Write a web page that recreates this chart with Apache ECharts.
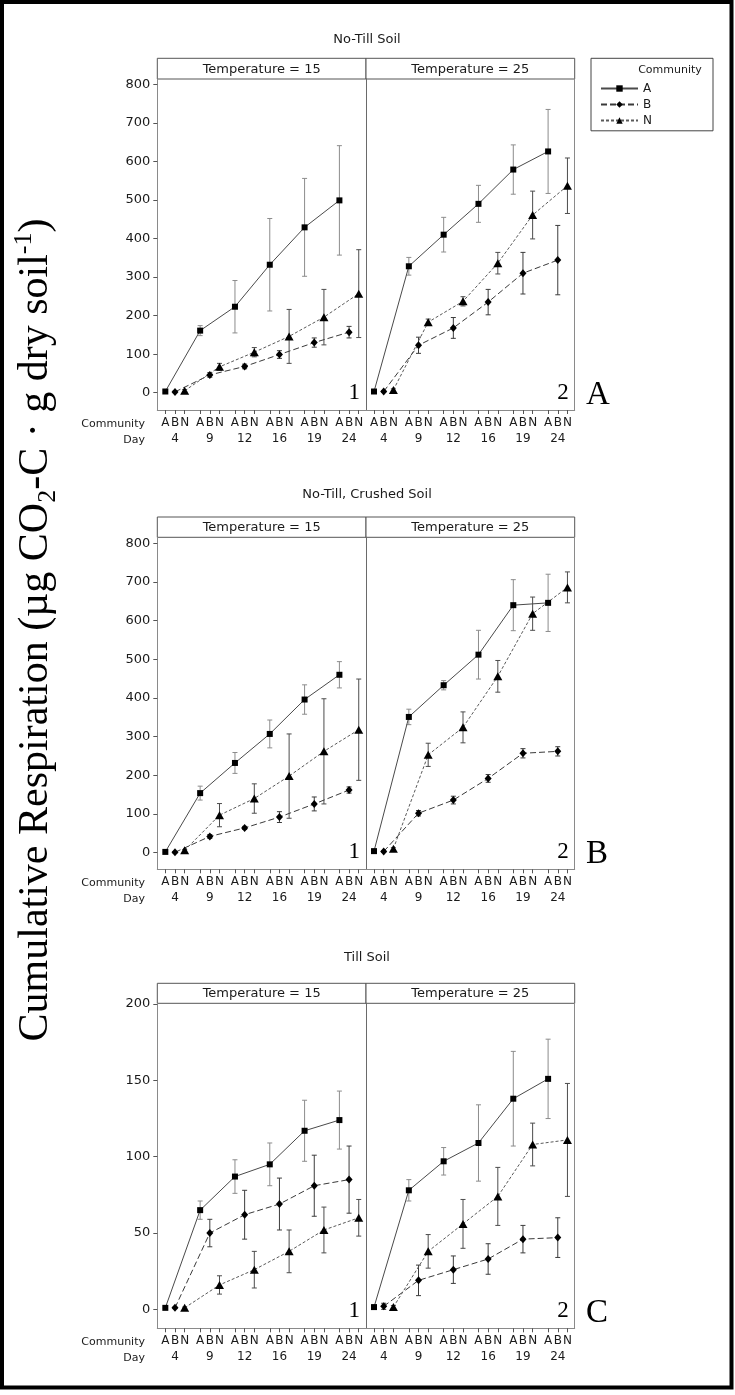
<!DOCTYPE html>
<html>
<head>
<meta charset="utf-8">
<script src="https://cdn.jsdelivr.net/npm/echarts@6/dist/echarts.min.js"></script>
<style>
  html, body { margin: 0; padding: 0; background: #fff; }
  #chart { width: 735px; height: 1395px; }
</style>
</head>
<body>
<div id="chart"></div>
<script>
// ---- categories and tick labels ----
const days = ['4', '9', '12', '16', '19', '24'];
const communities = ['A', 'B', 'N'];
const temperatures = ['Temperature = 15', 'Temperature = 25'];
const soilTitles = ['No-Till Soil', 'No-Till, Crushed Soil', 'Till Soil'];
const rowLetters = ['A', 'B', 'C'];
const panelNumbers = ['1', '2'];
const yTicksRespiration = [0, 100, 200, 300, 400, 500, 600, 700, 800];
const yTicksTill = [0, 50, 100, 150, 200];

// ---- cumulative respiration means (days 4..24) and error-bar half widths ----
// No-Till soil, 15 °C
const noTill15A = [3, 161, 223, 332, 429, 499];
const noTill15AErr = [3, 13, 68, 120, 127, 142];
const noTill15B = [2, 46, 68, 99, 130, 157];
const noTill15BErr = [2, 6, 6, 10, 12, 15];
const noTill15N = [5, 67, 105, 146, 196, 257];
const noTill15NErr = [3, 9, 12, 70, 72, 114];
// No-Till soil, 25 °C
const noTill25A = [3, 328, 410, 490, 579, 626];
const noTill25AErr = [3, 23, 45, 48, 64, 109];
const noTill25B = [3, 123, 168, 235, 310, 344];
const noTill25BErr = [2, 21, 27, 33, 54, 90];
const noTill25N = [7, 183, 237, 336, 461, 537];
const noTill25NErr = [3, 8, 12, 28, 62, 72];
// No-Till crushed soil, 15 °C
const crushed15A = [2, 154, 232, 307, 396, 460];
const crushed15AErr = [2, 18, 27, 36, 38, 34];
const crushed15B = [1, 42, 64, 92, 126, 162];
const crushed15BErr = [2, 5, 4, 14, 18, 8];
const crushed15N = [6, 97, 140, 198, 262, 318];
const crushed15NErr = [2, 30, 38, 109, 136, 131];
// No-Till crushed soil, 25 °C
const crushed25A = [4, 351, 433, 512, 640, 646];
const crushed25AErr = [2, 20, 12, 63, 66, 74];
const crushed25B = [3, 102, 136, 192, 257, 262];
const crushed25BErr = [2, 7, 10, 10, 12, 12];
const crushed25N = [10, 253, 324, 456, 618, 686];
const crushed25NErr = [3, 30, 40, 41, 43, 40];
// Till soil, 15 °C
const till15A = [1, 65, 87, 95, 117, 124];
const till15AErr = [0.5, 6, 11, 14, 20, 19];
const till15B = [1, 50, 62, 69, 81, 85];
const till15BErr = [0.5, 9, 16, 17, 20, 22];
const till15N = [1, 16, 26, 38, 52, 60];
const till15NErr = [0.5, 6, 12, 14, 15, 12];
// Till soil, 25 °C
const till25A = [1.5, 78, 97, 109, 138, 151];
const till25AErr = [1, 7, 9, 25, 31, 26];
const till25B = [2, 19, 26, 33, 46, 47];
const till25BErr = [2, 10, 9, 10, 9, 13];
const till25N = [1.5, 38, 56, 74, 108, 111];
const till25NErr = [1, 11, 16, 19, 14, 37];

// panels in reading order: row (soil) x column (temperature)
const panels = [
  [[noTill15A, noTill15AErr], [noTill15B, noTill15BErr], [noTill15N, noTill15NErr]],
  [[noTill25A, noTill25AErr], [noTill25B, noTill25BErr], [noTill25N, noTill25NErr]],
  [[crushed15A, crushed15AErr], [crushed15B, crushed15BErr], [crushed15N, crushed15NErr]],
  [[crushed25A, crushed25AErr], [crushed25B, crushed25BErr], [crushed25N, crushed25NErr]],
  [[till15A, till15AErr], [till15B, till15BErr], [till15N, till15NErr]],
  [[till25A, till25AErr], [till25B, till25BErr], [till25N, till25NErr]]
];

// ---- layout ----
const SANS = '"DejaVu Sans", Verdana, sans-serif';
const SERIF = '"Liberation Serif", "Times New Roman", serif';
const TEXT = '#1a1a1a';
const panelLefts = [157.3, 366];
const panelWidth = 208.7;
const stripTops = [58.3, 517, 983.3];
const plotTops = [79, 537.3, 1003.3];
const plotBottoms = [410, 869.3, 1328.3];
const titleYs = [39.3, 495, 957.3];
const yExtents = [[-45, 814], [-43, 815.5], [-12.4, 200.5]];
const yTickSets = [yTicksRespiration, yTicksRespiration, yTicksTill];

// x position of each community within a day group (value-axis units)
const GROUP = 36, STEP = 10;
const xOf = (g, c) => g * GROUP + c * STEP;
const communityTicks = [];
days.forEach((d, g) => communities.forEach((c, ci) => communityTicks.push(xOf(g, ci))));
const dayTicks = days.map((d, g) => xOf(g, 1));

const symbols = ['rect', 'diamond', 'triangle'];
const symbolSizes = [6, [7, 8], [9, 8]];
const lineTypes = ['solid', [6, 3], [3, 2]];
const lineColors = ['#4a4a4a', '#3a3a3a', '#5a5a5a'];
const errColors = ['#8c8c8c', '#3c3c3c', '#4c4c4c'];

const grids = [], xAxes = [], yAxes = [], series = [], graphics = [];

panels.forEach((panel, i) => {
  const row = Math.floor(i / 2), col = i % 2;
  grids.push({
    left: panelLefts[col], top: plotTops[row],
    width: panelWidth, height: plotBottoms[row] - plotTops[row],
    containLabel: false
  });
  // community letters under every tick
  xAxes.push({
    type: 'value', gridIndex: i, min: -8.3, max: 207.5, position: 'bottom',
    axisLine: { show: true, onZero: false, lineStyle: { color: '#8a8a8a', width: 1 } },
    axisTick: { show: true, customValues: communityTicks, length: 4, lineStyle: { color: '#555' } },
    axisLabel: {
      customValues: communityTicks, margin: 7, fontSize: 12, fontFamily: SANS, color: TEXT,
      formatter: v => communities[Math.round((v % GROUP) / STEP)]
    },
    splitLine: { show: false }
  });
  // day numbers on a second row
  xAxes.push({
    type: 'value', gridIndex: i, min: -8.3, max: 207.5, position: 'bottom', offset: 16,
    axisLine: { show: false }, axisTick: { show: false },
    axisLabel: {
      customValues: dayTicks, margin: 7, fontSize: 12, fontFamily: SANS, color: TEXT,
      formatter: v => days[Math.round((v - STEP) / GROUP)]
    },
    splitLine: { show: false }
  });
  yAxes.push({
    type: 'value', gridIndex: i, min: yExtents[row][0], max: yExtents[row][1], position: 'left',
    axisLine: { show: true, onZero: false, lineStyle: { color: col === 0 ? '#8a8a8a' : '#6a6a6a' } },
    axisTick: { show: col === 0, customValues: yTickSets[row], length: 4, lineStyle: { color: '#555' } },
    axisLabel: { show: col === 0, customValues: yTickSets[row], margin: 7, fontSize: 13, fontFamily: SANS, color: TEXT },
    splitLine: { show: false }
  });

  panel.forEach(([means, errs], ci) => {
    series.push({
      type: 'custom', name: communities[ci] + ' error', xAxisIndex: 2 * i, yAxisIndex: i,
      silent: true, z: 2, clip: false,
      encode: { x: 0, y: [1, 2] },
      data: means.map((m, g) => [xOf(g, ci), m - errs[g], m + errs[g]]),
      renderItem: (params, api) => {
        const x = api.value(0);
        const lo = api.coord([x, api.value(1)]);
        const hi = api.coord([x, api.value(2)]);
        const w = 2.5;
        const style = { stroke: errColors[ci], lineWidth: 1 };
        return {
          type: 'group', children: [
            { type: 'line', shape: { x1: lo[0], y1: lo[1], x2: hi[0], y2: hi[1] }, style },
            { type: 'line', shape: { x1: hi[0] - w, y1: hi[1], x2: hi[0] + w, y2: hi[1] }, style },
            { type: 'line', shape: { x1: lo[0] - w, y1: lo[1], x2: lo[0] + w, y2: lo[1] }, style }
          ]
        };
      }
    });
    series.push({
      type: 'line', name: communities[ci], xAxisIndex: 2 * i, yAxisIndex: i, z: 3,
      data: means.map((m, g) => [xOf(g, ci), m]),
      symbol: symbols[ci], symbolSize: symbolSizes[ci], showAllSymbol: true,
      itemStyle: { color: '#000' },
      lineStyle: { color: lineColors[ci], width: 1, type: lineTypes[ci] }
    });
  });

  // corner panel number
  graphics.push({
    type: 'text', x: panelLefts[col] + panelWidth - 6, y: plotBottoms[row] - 17.5, silent: true,
    style: { text: panelNumbers[col], font: '23px ' + SERIF, fill: '#000', align: 'right', verticalAlign: 'middle' }
  });
});

// right-hand frame line of each second panel
[1, 3, 5].forEach(i => {
  const row = Math.floor(i / 2);
  yAxes.push({
    type: 'value', gridIndex: i, position: 'right', min: yExtents[row][0], max: yExtents[row][1],
    axisLine: { show: true, onZero: false, lineStyle: { color: '#8a8a8a' } },
    axisTick: { show: false }, axisLabel: { show: false }, splitLine: { show: false }
  });
});

// strips, titles, row letters, axis row captions
soilTitles.forEach((t, row) => {
  graphics.push({
    type: 'text', x: 367, y: titleYs[row], silent: true,
    style: { text: t, font: '13px ' + SANS, fill: TEXT, align: 'center', verticalAlign: 'middle' }
  });
  temperatures.forEach((tt, col) => {
    graphics.push({
      type: 'rect', silent: true,
      shape: { x: panelLefts[col], y: stripTops[row], width: panelWidth, height: plotTops[row] - stripTops[row] },
      style: { fill: '#fff', stroke: '#555', lineWidth: 1 }
    });
    graphics.push({
      type: 'text', x: panelLefts[col] + panelWidth / 2, y: (stripTops[row] + plotTops[row]) / 2 + 0.5, silent: true,
      style: { text: tt, font: '13px ' + SANS, fill: TEXT, align: 'center', verticalAlign: 'middle' }
    });
  });
  graphics.push({
    type: 'text', x: 586, y: plotBottoms[row] - 15, silent: true,
    style: { text: rowLetters[row], font: '33px ' + SERIF, fill: '#000', align: 'left', verticalAlign: 'middle' }
  });
  graphics.push({
    type: 'text', x: 145, y: plotBottoms[row] + 14, silent: true,
    style: { text: 'Community', font: '11px ' + SANS, fill: TEXT, align: 'right', verticalAlign: 'middle' }
  });
  graphics.push({
    type: 'text', x: 145, y: plotBottoms[row] + 30, silent: true,
    style: { text: 'Day', font: '11px ' + SANS, fill: TEXT, align: 'right', verticalAlign: 'middle' }
  });
});

// legend frame and heading
graphics.push({
  type: 'rect', silent: true, z: -1,
  shape: { x: 591, y: 58.3, width: 122, height: 72.5 },
  style: { fill: '#fff', stroke: '#444', lineWidth: 1 }
});
graphics.push({
  type: 'text', x: 670, y: 70, silent: true,
  style: { text: 'Community', font: '11px ' + SANS, fill: TEXT, align: 'center', verticalAlign: 'middle' }
});

// shared y-axis title
graphics.push({
  type: 'text', x: 36, y: 630, rotation: Math.PI / 2, silent: true,
  style: {
    text: 'Cumulative Respiration (µg CO{sub|2}-C · g dry soil{sup|-1})',
    fontSize: 42, fontFamily: SERIF, lineHeight: 50, fill: '#000',
    align: 'center', verticalAlign: 'middle',
    rich: {
      sub: { fontSize: 26, lineHeight: 26, fontFamily: SERIF, verticalAlign: 'bottom', fill: '#000' },
      sup: { fontSize: 26, lineHeight: 26, fontFamily: SERIF, verticalAlign: 'top', fill: '#000' }
    }
  }
});

// outer frame
graphics.push({
  type: 'rect', silent: true, z: 100,
  shape: { x: 2, y: 2, width: 729.5, height: 1385.5 },
  style: { fill: 'none', stroke: '#000', lineWidth: 4 }
});

const chart = echarts.init(document.getElementById('chart'), null, { renderer: 'canvas' });
chart.setOption({
  animation: false,
  backgroundColor: '#fff',
  grid: grids,
  xAxis: xAxes,
  yAxis: yAxes,
  legend: {
    data: communities, orient: 'vertical', left: 595, top: 77.5,
    itemWidth: 37, itemHeight: 8, itemGap: 4, selectedMode: false,
    textStyle: { fontSize: 12, fontFamily: SANS, color: TEXT }
  },
  graphic: graphics,
  series: series
});
</script>
</body>
</html>
